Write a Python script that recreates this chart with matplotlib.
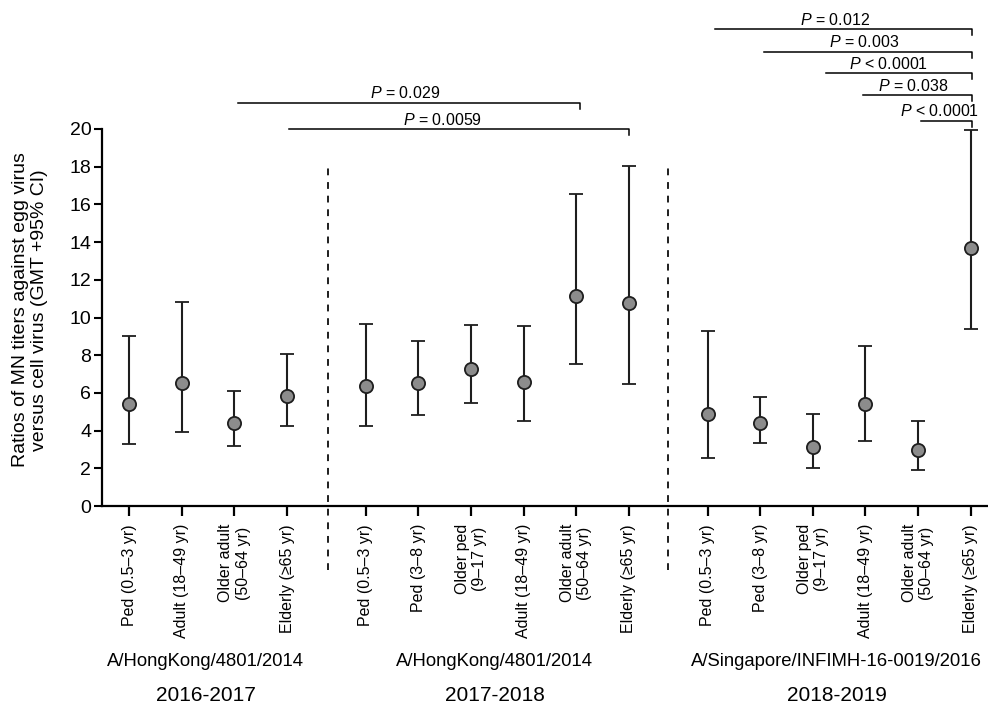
import numpy as np
import matplotlib
matplotlib.use("Agg")
import matplotlib.pyplot as plt

plt.rcParams['font.family'] = ['Liberation Sans', 'DejaVu Sans']
plt.rcParams['mathtext.fontset'] = 'custom'
plt.rcParams['mathtext.rm'] = 'Liberation Sans'
plt.rcParams['mathtext.it'] = 'Liberation Sans:italic'

# age groups per season
labels_1617 = ['Ped (0.5–3 yr)', 'Adult (18–49 yr)', 'Older adult\n(50–64 yr)', 'Elderly (≥65 yr)']
labels_1718 = ['Ped (0.5–3 yr)', 'Ped (3–8 yr)', 'Older ped\n(9–17 yr)', 'Adult (18–49 yr)',
               'Older adult\n(50–64 yr)', 'Elderly (≥65 yr)']
labels_1819 = ['Ped (0.5–3 yr)', 'Ped (3–8 yr)', 'Older ped\n(9–17 yr)', 'Adult (18–49 yr)',
               'Older adult\n(50–64 yr)', 'Elderly (≥65 yr)']

# GMT ratio and 95% CI
gmt_1617 = [5.43, 6.52, 4.40, 5.83]
lo_1617 = [3.27, 3.94, 3.18, 4.24]
hi_1617 = [9.04, 10.80, 6.10, 8.08]

gmt_1718 = [6.38, 6.52, 7.25, 6.60, 11.16, 10.79]
lo_1718 = [4.23, 4.85, 5.45, 4.53, 7.53, 6.45]
hi_1718 = [9.66, 8.77, 9.60, 9.57, 16.53, 18.02]

gmt_1819 = [4.86, 4.40, 3.15, 5.41, 2.95, 13.69]
lo_1819 = [2.55, 3.34, 2.02, 3.45, 1.93, 9.39]
hi_1819 = [9.30, 5.78, 4.90, 8.49, 4.53, 19.95]

strains = ['A/HongKong/4801/2014', 'A/HongKong/4801/2014', 'A/Singapore/INFIMH-16-0019/2016']
seasons = ['2016-2017', '2017-2018', '2018-2019']

p_labels = ['$\\mathit{P}$ = 0.029', '$\\mathit{P}$ = 0.0059', '$\\mathit{P}$ = 0.012',
            '$\\mathit{P}$ = 0.003', '$\\mathit{P}$ < 0.0001', '$\\mathit{P}$ = 0.038',
            '$\\mathit{P}$ < 0.0001']

groups = [(labels_1617, gmt_1617, lo_1617, hi_1617),
          (labels_1718, gmt_1718, lo_1718, hi_1718),
          (labels_1819, gmt_1819, lo_1819, hi_1819)]

fig = plt.figure(figsize=(9.88, 7.08), dpi=100)
ax = fig.add_axes([0.1037, 0.2853, 0.8963, 0.5325])

gap = 1.5
start = 0.0
all_x, all_labels, centers = [], [], []
for labels, gmt, lo, hi in groups:
    x = start + np.arange(len(labels))
    gmt = np.array(gmt)
    yerr = [gmt - np.array(lo), np.array(hi) - gmt]
    ax.errorbar(x, gmt, yerr=yerr, fmt='o', color='#1e1e1e', ecolor='#1e1e1e',
                elinewidth=1.5, capsize=5, capthick=1.5, ms=9.5,
                mfc='#8c8c8c', mec='#1e1e1e', mew=1.3, zorder=3)
    all_x.extend(x)
    all_labels.extend(labels)
    centers.append(x.mean())
    start = x[-1] + gap

# dashed separators between seasons
for xs in [3.78, 10.24]:
    ax.plot([xs, xs], [-3.4, 18.1], color='#1e1e1e', lw=1.4, ls=(0, (3.5, 3.5)),
            clip_on=False)

ax.set_xlim(-0.51, 16.33)
ax.set_ylim(0, 20)
ax.set_yticks(np.arange(0, 21, 2))
ax.set_xticks(all_x)
ax.set_xticklabels(all_labels, rotation=90, fontsize=11.5)
ax.tick_params(axis='y', labelsize=14, width=1.5, length=6, pad=2)
ax.tick_params(axis='x', width=1.6, length=7, pad=6)
for s in ['top', 'right']:
    ax.spines[s].set_visible(False)
for s in ['left', 'bottom']:
    ax.spines[s].set_linewidth(1.6)

ax.set_ylabel('Ratios of MN titers against egg virus\nversus cell virus (GMT +95% CI)',
              fontsize=14, linespacing=1.15)
ax.yaxis.set_label_coords(-0.062, 0.52)

trans = ax.get_xaxis_transform()
for cx, strain, season in zip(centers, strains, seasons):
    ax.text(cx - 0.05, -0.413, strain, transform=trans, ha='center', va='center',
            fontsize=13.3)
    ax.text(cx - 0.05, -0.502, season, transform=trans, ha='center', va='center',
            fontsize=15)

# significance brackets: (left x, right x, height, text x)
bracket_pos = [(2.06, 8.57, 21.38, 5.25),
               (3.04, 9.50, 19.98, 5.95),
               (11.13, 16.03, 25.29, 13.42),
               (12.07, 16.03, 24.11, 13.97),
               (13.25, 16.03, 22.95, 14.44),
               (13.95, 16.03, 21.79, 14.90),
               (15.05, 16.03, 20.44, 15.41)]
for (x1, x2, yb, tx), lab in zip(bracket_pos, p_labels):
    ax.plot([x1, x2, x2], [yb, yb, yb - 0.32], color='black', lw=1.1, clip_on=False)
    ax.text(tx, yb + 0.25, lab, ha='center', va='baseline', fontsize=11.5, clip_on=False)

fig.savefig('out.png', dpi=100)
